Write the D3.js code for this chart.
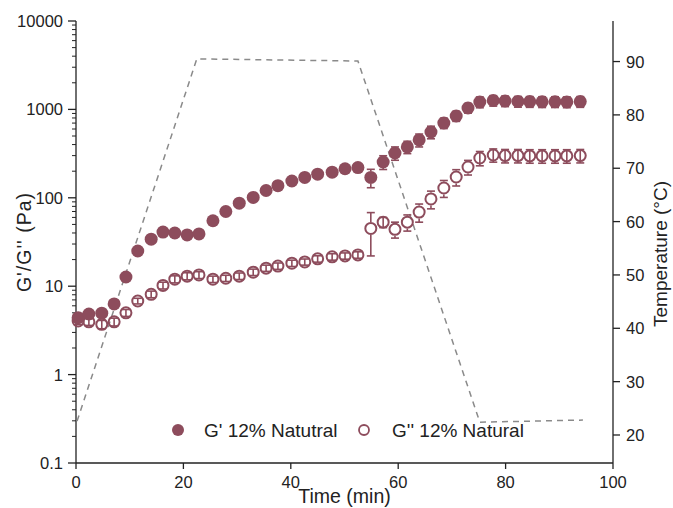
<!DOCTYPE html>
<html>
<head>
<meta charset="utf-8">
<script src="https://cdn.jsdelivr.net/npm/d3@7"></script>
<style>
  body { margin: 0; background: #fff; }
  text { font-family: Arial, 'Liberation Sans', sans-serif; fill: #222; }
</style>
</head>
<body>
<script>
const time = [0.4, 2.4, 4.8, 7.1, 9.3, 11.5, 14.0, 16.2, 18.4, 20.7, 22.9, 25.5, 27.9, 30.4,
  33.0, 35.4, 37.6, 40.2, 42.6, 45.0, 47.7, 50.1, 52.5, 54.9, 57.2, 59.4, 61.7, 63.9, 66.1,
  68.5, 70.8, 73.0, 75.2, 77.7, 79.9, 82.3, 84.5, 86.8, 89.2, 91.4, 93.9]

// G' (storage modulus, Pa) and its error
const gPrime = [4.4, 4.85, 4.95, 6.3, 12.7, 25, 34, 41, 40, 38, 39, 55, 70, 87, 101, 121, 137,
  155, 170, 185, 195, 213, 220, 170, 254, 321, 376, 451, 555, 702, 842, 1037, 1213, 1260,
  1245, 1230, 1225, 1220, 1220, 1215, 1225]
const gPrimeErr = [0.3, 0.3, 0.3, 0.4, 0.8, 1.5, 2, 2.5, 2.5, 2.5, 2.5, 3, 4, 5, 6, 7, 8, 9, 10,
  11, 12, 13, 14, 40, 45, 55, 60, 75, 90, 95, 110, 130, 170, 170, 170, 170, 170, 170, 170, 170, 170]

// G'' (loss modulus, Pa) and its error
const gDouble = [4.04, 3.95, 3.7, 3.95, 5.0, 6.8, 8.1, 10.2, 12.0, 13.0, 13.4, 12.0, 12.3, 13.0,
  14.4, 16.0, 16.9, 18.2, 18.8, 20.4, 21.5, 22.0, 22.6, 45, 53, 44, 53, 69, 97, 129, 172, 223,
  282, 305, 300, 300, 298, 298, 298, 298, 300]
const gDoubleErr = [0.35, 0.35, 0.4, 0.4, 0.45, 0.5, 0.7, 0.9, 1.1, 1.2, 1.2, 1.0, 1.0, 1.1, 1.2,
  1.3, 1.4, 1.5, 1.5, 1.7, 1.8, 1.8, 1.9, 23, 7, 9, 11, 16, 22, 28, 36, 42, 52, 52, 52, 52, 52,
  52, 52, 52, 52]

// temperature profile (dashed line, right axis)
const tempTime = [0.2, 22.5, 52.5, 75.2, 94.4]
const tempValues = [22.6, 90.5, 90.1, 22.4, 22.8]

// tick labels
const xTicks = [0, 20, 40, 60, 80, 100]
const yTicks = [0.1, 1, 10, 100, 1000, 10000]
const tempTicks = [20, 30, 40, 50, 60, 70, 80, 90]
const legendLabels = ["G' 12% Natutral", "G'' 12% Natural"]

;(() => {
  const width = 673,
    height = 508
  const left = 76,
    right = 613,
    top = 21,
    bottom = 463
  const color = '#8d4c5c'
  const r = 6.5

  const svg = d3
    .select('body')
    .append('svg')
    .attr('width', width)
    .attr('height', height)

  const x = d3.scaleLinear().domain([0, 100]).range([left, right])
  const y = d3.scaleLog().domain([0.1, 10000]).range([bottom, top])
  const yT = d3.scaleLinear().domain([14.75, 97.6]).range([bottom, top])

  // minor ticks for the log axis (2..9 in each decade)
  const minor = []
  for (let p = -1; p < 4; p++) {
    for (let m = 2; m < 10; m++) minor.push(m * Math.pow(10, p))
  }

  // left axis
  const yAxis = svg.append('g').attr('transform', `translate(${left},0)`)
  yAxis.append('line').attr('y1', top).attr('y2', bottom).attr('stroke', '#222').attr('stroke-width', 1.3)
  yAxis
    .selectAll('.minor')
    .data(minor)
    .enter()
    .append('line')
    .attr('x1', -4)
    .attr('x2', 0)
    .attr('y1', d => y(d))
    .attr('y2', d => y(d))
    .attr('stroke', '#222')
  yAxis
    .selectAll('.major')
    .data(yTicks)
    .enter()
    .append('line')
    .attr('x1', -8)
    .attr('x2', 0)
    .attr('y1', d => y(d))
    .attr('y2', d => y(d))
    .attr('stroke', '#222')
    .attr('stroke-width', 1.3)
  yAxis
    .selectAll('.lbl')
    .data(yTicks)
    .enter()
    .append('text')
    .attr('x', -13)
    .attr('y', d => y(d) + 6)
    .attr('text-anchor', 'end')
    .attr('font-size', 16.5)
    .text(d => (d < 1 ? '0.1' : d3.format('d')(d)))

  // bottom axis
  const xAxis = svg.append('g').attr('transform', `translate(0,${bottom})`)
  xAxis.append('line').attr('x1', left).attr('x2', right).attr('stroke', '#222').attr('stroke-width', 1.3)
  xAxis
    .selectAll('.major')
    .data(xTicks)
    .enter()
    .append('line')
    .attr('x1', d => x(d))
    .attr('x2', d => x(d))
    .attr('y1', 0)
    .attr('y2', 6)
    .attr('stroke', '#222')
    .attr('stroke-width', 1.3)
  xAxis
    .selectAll('.lbl')
    .data(xTicks)
    .enter()
    .append('text')
    .attr('x', d => x(d))
    .attr('y', 25)
    .attr('text-anchor', 'middle')
    .attr('font-size', 16.5)
    .text(d => d)

  // right axis (temperature)
  const tAxis = svg.append('g').attr('transform', `translate(${right},0)`)
  tAxis.append('line').attr('y1', top).attr('y2', bottom).attr('stroke', '#222').attr('stroke-width', 1.3)
  tAxis
    .selectAll('.major')
    .data(tempTicks)
    .enter()
    .append('line')
    .attr('x1', 0)
    .attr('x2', 7)
    .attr('y1', d => yT(d))
    .attr('y2', d => yT(d))
    .attr('stroke', '#222')
    .attr('stroke-width', 1.3)
  tAxis
    .selectAll('.lbl')
    .data(tempTicks)
    .enter()
    .append('text')
    .attr('x', 13)
    .attr('y', d => yT(d) + 6)
    .attr('font-size', 16.5)
    .text(d => d)

  // axis titles
  svg
    .append('text')
    .attr('transform', `translate(31,${(top + bottom) / 2}) rotate(-90)`)
    .attr('text-anchor', 'middle')
    .attr('font-size', 19.5)
    .attr('letter-spacing', 1)
    .text("G'/G'' (Pa)")
  svg
    .append('text')
    .attr('transform', `translate(667,${(top + bottom) / 2 + 12}) rotate(-90)`)
    .attr('text-anchor', 'middle')
    .attr('font-size', 19)
    .text('Temperature (°C)')
  svg
    .append('text')
    .attr('x', x(50))
    .attr('y', 503)
    .attr('text-anchor', 'middle')
    .attr('font-size', 19.5)
    .text('Time (min)')

  // temperature dashed line
  const tLine = d3
    .line()
    .x(d => x(d[0]))
    .y(d => yT(d[1]))
  svg
    .append('path')
    .datum(d3.zip(tempTime, tempValues))
    .attr('d', tLine)
    .attr('fill', 'none')
    .attr('stroke', '#8a8a8a')
    .attr('stroke-width', 1.5)
    .attr('stroke-dasharray', '6,5')

  // error bars; leave the inside of the marker clear when the bar is longer than it
  const drawErrors = (vals, errs, cls) => {
    const g = svg.append('g').attr('class', cls).attr('stroke', color).attr('stroke-width', 1.6)
    time.forEach((t, i) => {
      const cx = x(t),
        cy = y(vals[i]),
        yHi = y(vals[i] + errs[i]),
        yLo = y(Math.max(vals[i] - errs[i], 0.11))
      if (cy - yHi > r) {
        g.append('line').attr('x1', cx).attr('x2', cx).attr('y1', yHi).attr('y2', cy - r)
        g.append('line').attr('x1', cx).attr('x2', cx).attr('y1', cy + r).attr('y2', yLo)
      } else {
        g.append('line').attr('x1', cx).attr('x2', cx).attr('y1', yHi).attr('y2', yLo)
      }
      ;[yHi, yLo].forEach(yy => {
        g.append('line').attr('x1', cx - 4).attr('x2', cx + 4).attr('y1', yy).attr('y2', yy)
      })
    })
  }
  drawErrors(gPrime, gPrimeErr, 'errG1')
  drawErrors(gDouble, gDoubleErr, 'errG2')

  // G'' open circles
  svg
    .selectAll('.gDouble')
    .data(d3.zip(time, gDouble))
    .enter()
    .append('circle')
    .attr('class', 'gDouble')
    .attr('cx', d => x(d[0]))
    .attr('cy', d => y(d[1]))
    .attr('r', r - 1)
    .attr('fill', 'none')
    .attr('stroke', color)
    .attr('stroke-width', 2)

  // G' filled circles
  svg
    .selectAll('.gPrime')
    .data(d3.zip(time, gPrime))
    .enter()
    .append('circle')
    .attr('class', 'gPrime')
    .attr('cx', d => x(d[0]))
    .attr('cy', d => y(d[1]))
    .attr('r', r)
    .attr('fill', color)

  // legend
  const legend = svg.append('g').attr('class', 'legend')
  legend.append('circle').attr('cx', 178).attr('cy', 430).attr('r', 6).attr('fill', color)
  legend
    .append('circle')
    .attr('cx', 364)
    .attr('cy', 430)
    .attr('r', 5)
    .attr('fill', 'none')
    .attr('stroke', color)
    .attr('stroke-width', 1.8)
  legend.append('text').attr('x', 204).attr('y', 437).attr('font-size', 19).text(legendLabels[0])
  legend.append('text').attr('x', 392).attr('y', 437).attr('font-size', 19).text(legendLabels[1])
})()
</script>
</body>
</html>
